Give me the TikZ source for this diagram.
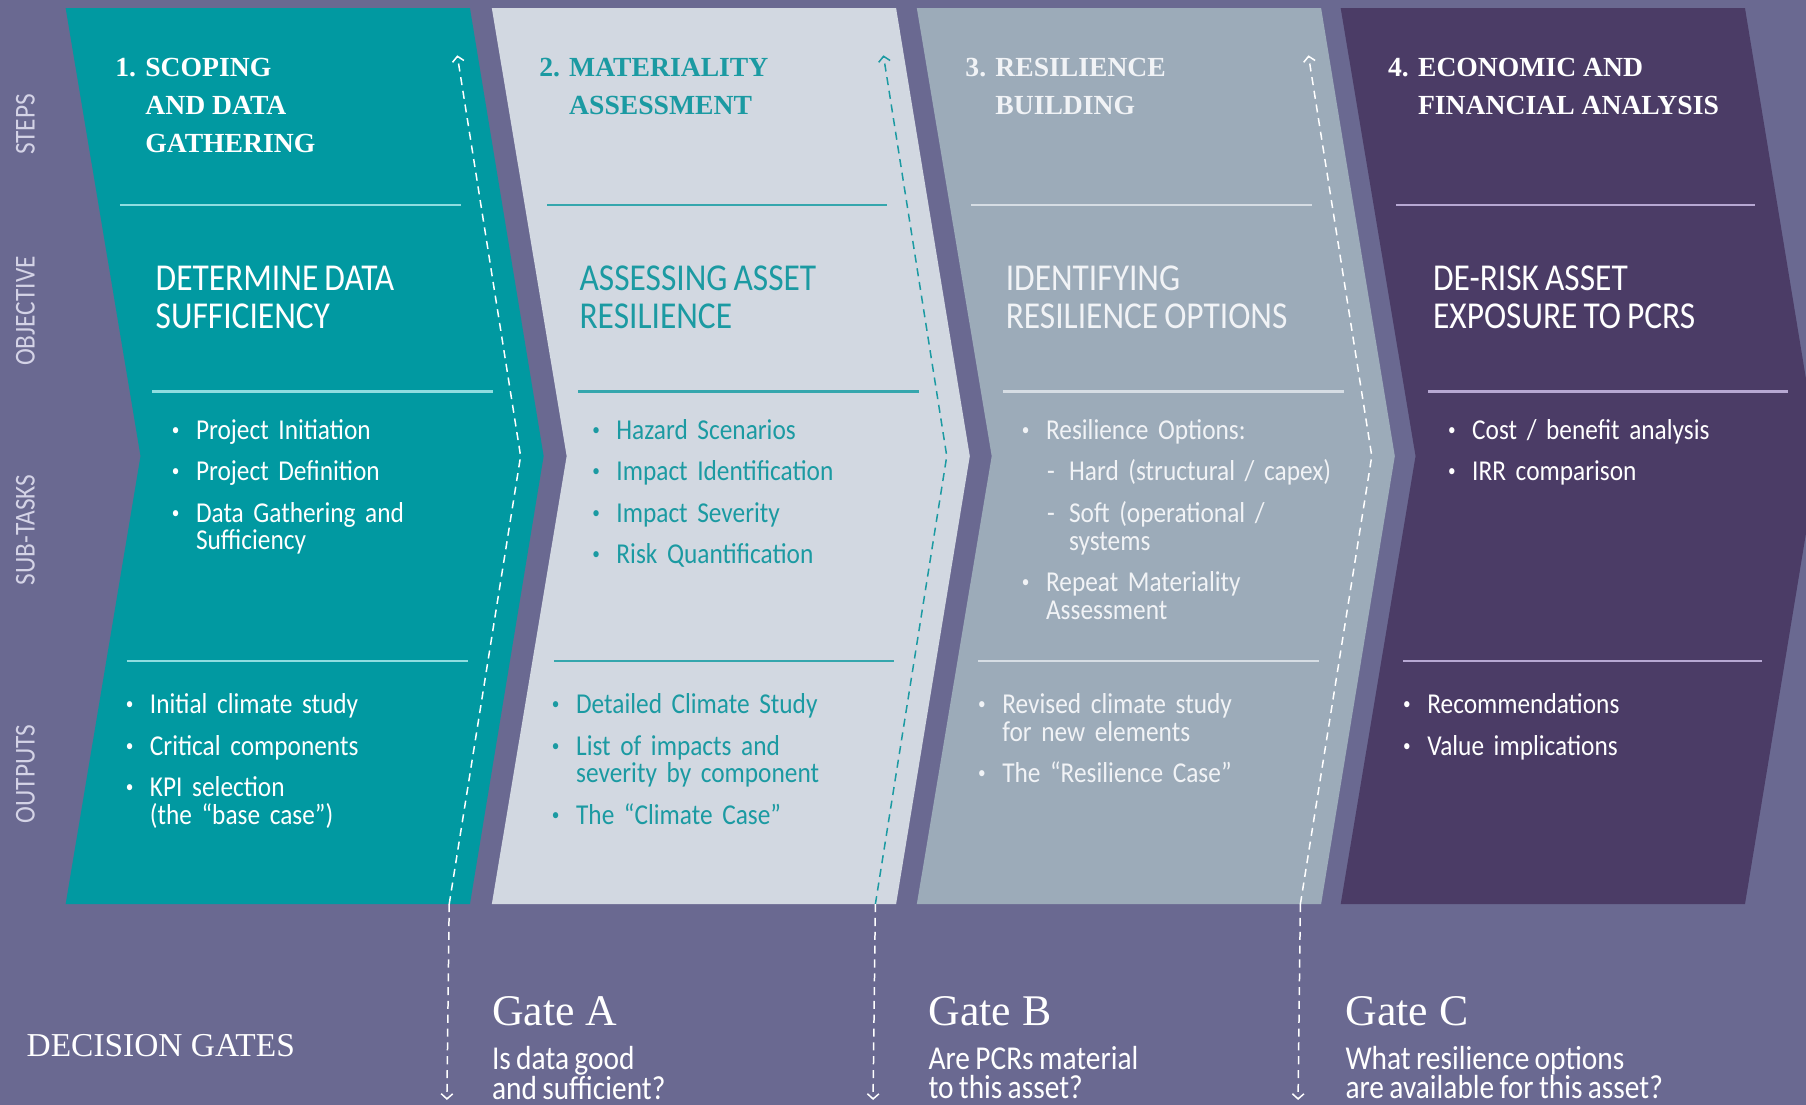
\documentclass[tikz,border=0pt]{standalone}
\usepackage{fontspec}
\usepackage{graphicx}
\usepackage{tikz}
\usetikzlibrary{arrows.meta}
\setmainfont{Liberation Serif}
\newfontfamily\cabin[FakeStretch=0.88, WordSpace=0.8]{Carlito}

\definecolor{bgpurple}{HTML}{6A6991}
\definecolor{stepteal}{HTML}{0199A1}
\definecolor{steplight}{HTML}{D2D8E1}
\definecolor{stepgrey}{HTML}{9CABB9}
\definecolor{stepdark}{HTML}{4B3C66}
\definecolor{ruleteal}{HTML}{8FDDE0}
\definecolor{rulemid}{HTML}{35A6AD}
\definecolor{rulegrey}{HTML}{D6DDE4}
\definecolor{rulelilac}{HTML}{B7A8D3}
\definecolor{inkteal}{HTML}{1B9AA2}
\definecolor{inkgrey}{HTML}{F1F3F6}
\definecolor{sidegrey}{HTML}{D4D3E6}

\newcommand{\dotmark}{\raisebox{0.14em}{\scalebox{0.6}{\textbullet}}}
\newcommand{\bitem}[1]{\noindent\hangindent=23pt\hangafter=1\makebox[23pt][l]{\hspace*{2pt}\dotmark}#1\par\vspace{12pt}}
\newcommand{\ditem}[1]{\noindent\hangindent=43pt\hangafter=1\hspace*{24pt}\makebox[19pt][l]{-}#1\par\vspace{12pt}}

\tikzset{
	steptitle/.style={anchor=north west, inner sep=0pt, align=left, font=\bfseries\fontsize{24}{33}\selectfont},
	objective/.style={anchor=north west, inner sep=0pt, align=left, font=\cabin\fontsize{33}{33}\selectfont},
	tasks/.style={anchor=north west, inner sep=0pt, text width=330pt, align=left, font=\cabin\fontsize{25}{24}\selectfont},
	rowname/.style={rotate=90, inner sep=0pt, text=sidegrey, font=\cabin\fontsize{25}{25}\selectfont},
	gatename/.style={anchor=north west, inner sep=0pt, text=white, font=\fontsize{38}{40}\selectfont},
	gatequestion/.style={anchor=north west, inner sep=0pt, align=left, text=white, font=\cabin\fontsize{29}{25}\selectfont},
	gatearrow/.style={line width=1.3pt, dash pattern=on 7pt off 5pt, -{Straight Barb[length=4.5pt,width=10pt]}},
}

\begin{document}
\begin{tikzpicture}[x=1pt, y=-1pt]
		\useasboundingbox (0,0) rectangle (1568,959);
		\fill[bgpurple] (0,0) rectangle (1568,959);
		\fill[stepteal] (57,7) -- (408,7) -- (472,396) -- (408,785) -- (57,785) -- (122,396) -- cycle;
		\fill[steplight] (427,7) -- (778,7) -- (842,396) -- (778,785) -- (427,785) -- (492,396) -- cycle;
		\fill[stepgrey] (796,7) -- (1147,7) -- (1211,396) -- (1147,785) -- (796,785) -- (861,396) -- cycle;
		\fill[stepdark] (1164,7) -- (1515,7) -- (1579,396) -- (1515,785) -- (1164,785) -- (1229,396) -- cycle;

		\draw[ruleteal, line width=2pt] (104,178) -- (400,178) (132,340) -- (428,340) (110,574) -- (406,574);
		\draw[rulemid, line width=2pt] (475,178) -- (770,178) (502,340) -- (798,340) (481,574) -- (776,574);
		\draw[rulegrey, line width=2pt] (843,178) -- (1139,178) (871,340) -- (1167,340) (849,574) -- (1145,574);
		\draw[rulelilac, line width=2pt] (1212,178) -- (1524,178) (1240,340) -- (1552,340) (1218,574) -- (1530,574);

		\coordinate (A1) at (397,48);
		\coordinate (A2) at (452,396);
		\coordinate (A3) at (390,785);
		\coordinate (A4) at (388,955);
		\coordinate (B1) at (767,48);
		\coordinate (B2) at (822,396);
		\coordinate (B3) at (760,785);
		\coordinate (B4) at (758,955);
		\coordinate (C1) at (1136,48);
		\coordinate (C2) at (1191,396);
		\coordinate (C3) at (1129,785);
		\coordinate (C4) at (1127,955);
		\draw[gatearrow, white] (A3) -- (A2) -- (A1);
		\draw[gatearrow, white] (A3) -- (A4);
		\draw[gatearrow, inkteal] (B3) -- (B2) -- (B1);
		\draw[gatearrow, white] (B3) -- (B4);
		\draw[gatearrow, white] (C3) -- (C2) -- (C1);
		\draw[gatearrow, white] (C3) -- (C4);

		\node (R1) [rowname] at (22,108) {STEPS};
		\node (R2) [rowname] at (22,270) {OBJECTIVE};
		\node (R3) [rowname] at (22,460) {SUB-TASKS};
		\node (R4) [rowname] at (22,672) {OUTPUTS};

		\node (T1) [steptitle, text=white] at (100,50) {1. SCOPING\\\phantom{1. }AND DATA\\\phantom{1. }GATHERING};
		\node (T2) [steptitle, text=inkteal] at (468,50) {2. MATERIALITY\\\phantom{2. }ASSESSMENT};
		\node (T3) [steptitle, text=inkgrey] at (838,50) {3. RESILIENCE\\\phantom{3. }BUILDING};
		\node (T4) [steptitle, text=white] at (1205,50) {4. ECONOMIC AND\\\phantom{4. }FINANCIAL ANALYSIS};

		\node (O1) [objective, text=white] at (135,231) {DETERMINE DATA\\SUFFICIENCY};
		\node (O2) [objective, text=inkteal] at (503,231) {ASSESSING ASSET\\RESILIENCE};
		\node (O3) [objective, text=inkgrey] at (873,231) {IDENTIFYING\\RESILIENCE OPTIONS};
		\node (O4) [objective, text=white] at (1244,231) {DE-RISK ASSET\\EXPOSURE TO PCRS};

		\node (S1) [tasks, text=white] at (147,364) {\bitem{Project Initiation}\bitem{Project Definition}\bitem{Data Gathering and\newline Sufficiency}};
		\node (S2) [tasks, text=inkteal] at (512,364) {\bitem{Hazard Scenarios}\bitem{Impact Identification}\bitem{Impact Severity}\bitem{Risk Quantification}};
		\node (S3) [tasks, text=inkgrey] at (885,364) {\bitem{Resilience Options:}\ditem{Hard (structural / capex)}\ditem{Soft (operational /\newline systems}\bitem{Repeat Materiality\newline Assessment}};
		\node (S4) [tasks, text=white] at (1255,364) {\bitem{Cost / benefit analysis}\bitem{IRR comparison}};

		\node (U1) [tasks, text=white] at (107,602) {\bitem{Initial climate study}\bitem{Critical components}\bitem{KPI selection\newline (the “base case”)}};
		\node (U2) [tasks, text=inkteal] at (477,602) {\bitem{Detailed Climate Study}\bitem{List of impacts and\newline severity by component}\bitem{The “Climate Case”}};
		\node (U3) [tasks, text=inkgrey] at (847,602) {\bitem{Revised climate study\newline for new elements}\bitem{The “Resilience Case”}};
		\node (U4) [tasks, text=white] at (1216,602) {\bitem{Recommendations}\bitem{Value implications}};

		\node (DG) [anchor=west, inner sep=0pt, text=white, font=\fontsize{29}{30}\selectfont] at (23,908) {DECISION GATES};
		\node (GA) [gatename] at (427,865) {Gate A};
		\node (GB) [gatename] at (806,865) {Gate B};
		\node (GC) [gatename] at (1168,865) {Gate C};
		\node (QA) [gatequestion] at (427,908) {Is data good\\and sufficient?};
		\node (QB) [gatequestion] at (806,908) {Are PCRs material\\to this asset?};
		\node (QC) [gatequestion] at (1168,908) {What resilience options\\are available for this asset?};
\end{tikzpicture}
\end{document}
